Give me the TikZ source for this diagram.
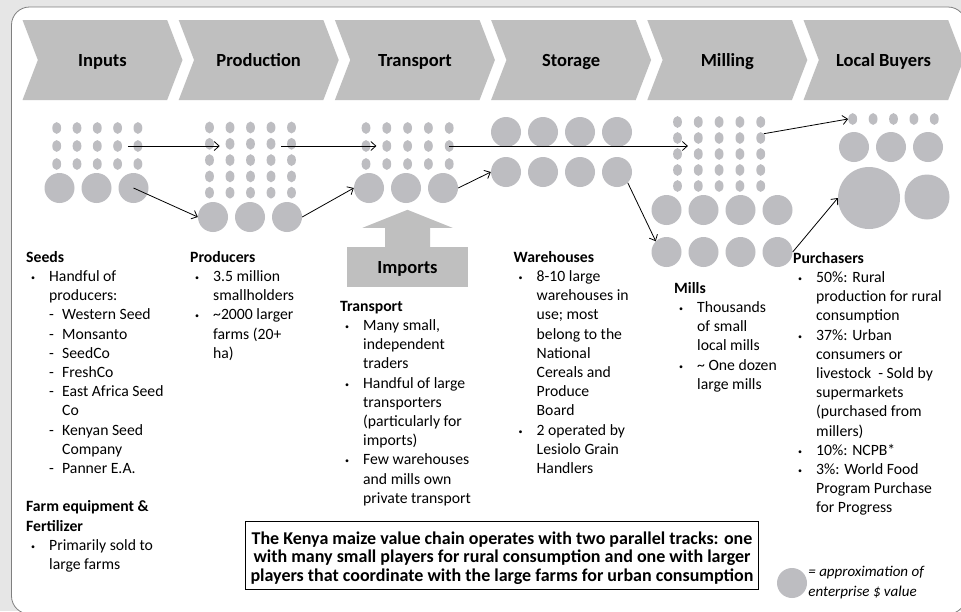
\documentclass[tikz,border=0pt]{standalone}
\usepackage{fontspec}
\setmainfont{Carlito}
\usetikzlibrary{arrows.meta,positioning,calc,shapes.geometric,shapes.symbols}
\definecolor{chev-gray}{HTML}{BFBFBF}
\definecolor{dot-gray}{HTML}{BDBDC1}
\definecolor{page-gray}{HTML}{E6E6E6}
\definecolor{frame-gray}{HTML}{7F7F7F}

\newcommand{\bul}{\hspace*{5pt}\makebox[18pt][l]{\fontsize{8}{8}\selectfont\raisebox{1pt}{\textbullet}}}
\newcommand{\ind}{\hspace*{23pt}}
\newcommand{\dind}{\hspace*{36pt}}
\newcommand{\dsh}{\makebox[13pt][l]{-}}

\begin{document}
\begin{tikzpicture}[x=1pt, y=-1pt,
    chev/.style={signal, signal from=west, signal to=east, signal pointer angle=138,
      minimum width=160pt, minimum height=80pt, inner sep=0pt, fill=chev-gray,
      text height=13pt, text depth=1pt,
      font=\fontsize{18.5}{22}\selectfont\bfseries},
    dot/.style={ellipse, fill=dot-gray, inner sep=0pt, minimum width=8.8pt, minimum height=11.8pt},
    firm/.style={circle, fill=dot-gray, inner sep=0pt, minimum size=30pt},
    flow/.style={-{Straight Barb[length=5pt,width=9pt]}, line width=0.8pt},
    info/.style={anchor=north west, inner sep=0pt, align=left,
      font=\fontsize{15.7}{19.2}\selectfont}]
  \useasboundingbox (0,0) rectangle (961,611);
  \fill[page-gray] (0,0) rectangle (961,611);
  \draw[frame-gray, fill=white, line width=0.8pt, rounded corners=18pt] (11.5,7) rectangle (966,614);

  % value chain steps
  \foreach \name/\lbl [count=\i from 0] in {inputs/Inputs, production/Production,
      transport/Transport, storage/Storage, milling/Milling, buyers/Local Buyers}
    \node[chev] (\name) at ({102.5+156.2*\i}, 60) {\lbl};

  % inputs
  \foreach \c in {1,...,5} \foreach \r in {1,2,3}
    \node[dot] (in-\c-\r) at ({36.4+20.3*\c}, {110+18*\r}) {};
  \foreach \x [count=\i] in {59.5,96.5,133.5}
    \node[firm] (inB\i) at (\x,188) {};

  % production
  \foreach \c in {1,...,5} \foreach \r in {1,...,5}
    \node[dot] (pr-\c-\r) at ({189+20.5*\c}, {111.2+16.3*\r}) {};
  \foreach \x [count=\i] in {213,250,287}
    \node[firm] (prB\i) at (\x,217) {};

  % transport
  \foreach \c in {1,...,5} \foreach \r in {1,2,3}
    \node[dot] (tr-\c-\r) at ({345.2+20.8*\c}, {110+18*\r}) {};
  \foreach \x [count=\i] in {369,406,443}
    \node[firm] (trB\i) at (\x,188) {};

  % imports
  \node[fill=chev-gray, minimum width=121pt, minimum height=40pt, inner sep=0pt,
    text height=13pt, text depth=1pt,
    font=\fontsize{18.5}{22}\selectfont\bfseries] (imports) at (407.5,267) {Imports};
  \fill[chev-gray] ([xshift=-22.5pt]imports.north) -- ++(0,-19) -- ++(-22.5,0)
    -- ++(45,-18) -- ++(45,18) -- ++(-22.5,0) -- ++(0,19) -- cycle;

  % storage
  \foreach \x [count=\i] in {506,543,580,617} {
    \node[firm] (stA\i) at (\x,132) {};
    \node[firm] (stB\i) at (\x,172) {};
  }

  % milling
  \foreach \c in {1,...,5} \foreach \r in {1,...,5}
    \node[dot] (ml-\c-\r) at ({656.7+20.8*\c}, {106+16*\r}) {};
  \foreach \x [count=\i] in {666.5,703.5,740.5,777.5} {
    \node[firm] (mlA\i) at (\x,210) {};
    \node[firm] (mlB\i) at (\x,252) {};
  }

  % local buyers
  \foreach \c in {1,...,5}
    \node[dot] (lb-\c) at ({832.3+20.4*\c}, 119) {};
  \foreach \x [count=\i] in {854,891,928}
    \node[firm] (lbA\i) at (\x,147) {};
  \node[firm, minimum size=62pt] (lbBig) at (869,198) {};
  \node[firm, minimum size=45pt] (lbMed) at (927,197) {};

  % flows
  \draw[flow] ($(in-4-2)!.5!(in-5-2)$) -- ($(pr-1-2 |- in-5-2)!.5!(pr-2-2 |- in-5-2)$);
  \draw[flow] ($(pr-4-2 |- tr-1-2)!.5!(pr-5-2 |- tr-1-2)$) -- ($(tr-1-2)!.5!(tr-2-2)$);
  \draw[flow] (inB3.center) -- (prB1.west);
  \draw[flow] (prB3.east) -- (trB1.west);
  \draw[flow] (tr-5-2.center) -- ($(ml-1-2 |- tr-5-2)!.5!(ml-2-2 |- tr-5-2)$);
  \draw[flow] (trB3.east) -- (stB1.west);
  \draw[flow] (stB4.south east) -- (mlB1.north west);
  \draw[flow] (ml-5-2.north east) -- (lb-1.west);
  \draw[flow] (mlB4.east) -- (lbBig.west);

  % descriptions
  \node[info] (seeds) at (26,251) {\textbf{Seeds}\\
    \bul Handful of\\
    \ind producers:\\
    \ind\dsh Western Seed\\
    \ind\dsh Monsanto\\
    \ind\dsh SeedCo\\
    \ind\dsh FreshCo\\
    \ind\dsh East Africa Seed\\
    \dind Co\\
    \ind\dsh Kenyan Seed\\
    \dind Company\\
    \ind\dsh Panner E.A.\\[19.2pt]
    \textbf{Farm equipment \&}\\
    \textbf{Fertilizer}\\
    \bul Primarily sold to\\
    \ind large farms};
  \node[info] (producers) at (190,251) {\textbf{Producers}\\
    \bul 3.5 million\\
    \ind smallholders\\
    \bul \textasciitilde2000 larger\\
    \ind farms (20+\\
    \ind ha)};
  \node[info] (traders) at (340,301) {\textbf{Transport}\\
    \bul Many small,\\
    \ind independent\\
    \ind traders\\
    \bul Handful of large\\
    \ind transporters\\
    \ind (particularly for\\
    \ind imports)\\
    \bul Few warehouses\\
    \ind and mills own\\
    \ind private transport};
  \node[info] (warehouses) at (513.5,251) {\textbf{Warehouses}\\
    \bul 8-10 large\\
    \ind warehouses in\\
    \ind use; most\\
    \ind belong to the\\
    \ind National\\
    \ind Cereals and\\
    \ind Produce\\
    \ind Board\\
    \bul 2 operated by\\
    \ind Lesiolo Grain\\
    \ind Handlers};
  \node[info] (mills) at (674,282) {\textbf{Mills}\\
    \bul Thousands\\
    \ind of small\\
    \ind local mills\\
    \bul \textasciitilde{} One dozen\\
    \ind large mills};
  \node[info] (purchasers) at (793,252) {\textbf{Purchasers}\\
    \bul 50\%: Rural\\
    \ind production for rural\\
    \ind consumption\\
    \bul 37\%: Urban\\
    \ind consumers or\\
    \ind livestock\ \ - Sold by\\
    \ind supermarkets\\
    \ind (purchased from\\
    \ind millers)\\
    \bul 10\%: NCPB*\\
    \bul 3\%: World Food\\
    \ind Program Purchase\\
    \ind for Progress};

  % summary and legend
  \node[draw, line width=0.8pt, fill=white, minimum width=513pt, minimum height=68pt,
    align=center, font=\fontsize{18}{18.3}\selectfont\bfseries] (summary) at (502,555)
    {\rule{0pt}{19pt}The Kenya maize value chain operates with two parallel tracks: one\\
     with many small players for rural consumption and one with larger\\
     players that coordinate with the large farms for urban consumption};
  \node[firm] (legend) at (792,583) {};
  \node[right=1pt of legend, inner sep=0pt, align=left,
    font=\fontsize{15}{20}\selectfont\itshape] (legendtext)
    {= approximation of\\enterprise \$ value};
\end{tikzpicture}
\end{document}
